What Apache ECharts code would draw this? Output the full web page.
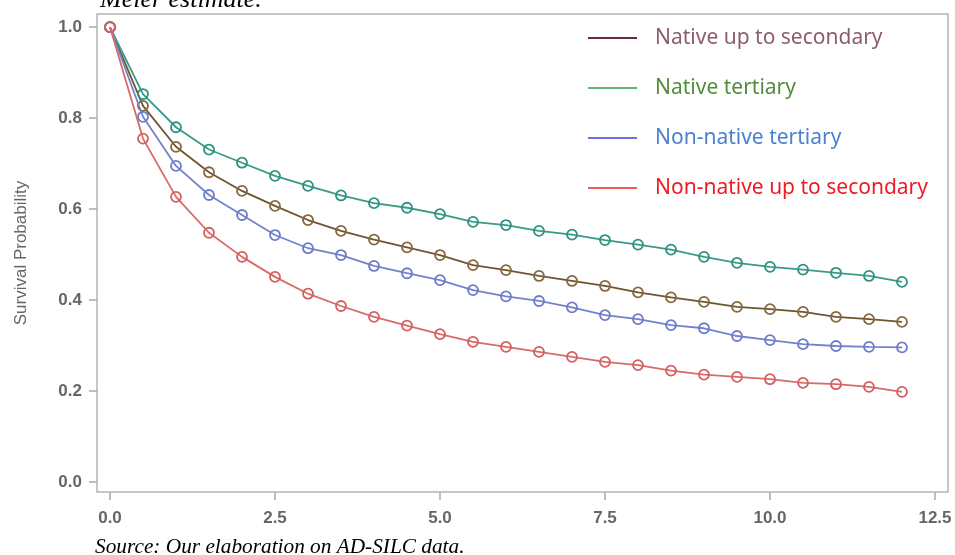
<!DOCTYPE html>
<html>
<head>
<meta charset="utf-8">
<script src="https://cdn.jsdelivr.net/npm/echarts@6/dist/echarts.min.js"></script>
<style>
html,body{margin:0;padding:0;background:#fff;}
#chart{width:955px;height:555px;}
</style>
</head>
<body>
<div id="chart"></div>
<script>
var times = [0,0.5,1,1.5,2,2.5,3,3.5,4,4.5,5,5.5,6,6.5,7,7.5,8,8.5,9,9.5,10,10.5,11,11.5,12];
var seriesNames = ['Native up to secondary','Native tertiary','Non-native tertiary','Non-native up to secondary'];
var nativeUpToSecondary = [1.0,0.827,0.737,0.681,0.640,0.607,0.576,0.552,0.533,0.516,0.499,0.477,0.466,0.453,0.442,0.431,0.417,0.406,0.396,0.385,0.380,0.374,0.363,0.358,0.352];
var nativeTertiary = [1.0,0.853,0.780,0.731,0.702,0.673,0.651,0.630,0.613,0.603,0.589,0.572,0.565,0.552,0.544,0.532,0.522,0.511,0.495,0.482,0.473,0.467,0.460,0.453,0.440];
var nonNativeTertiary = [1.0,0.803,0.695,0.631,0.587,0.543,0.514,0.499,0.475,0.459,0.444,0.422,0.408,0.398,0.384,0.367,0.358,0.345,0.338,0.321,0.312,0.303,0.299,0.297,0.296];
var nonNativeUpToSecondary = [1.0,0.755,0.627,0.548,0.495,0.451,0.414,0.387,0.363,0.344,0.325,0.308,0.297,0.286,0.275,0.264,0.257,0.245,0.236,0.231,0.226,0.218,0.215,0.209,0.198];
var xTicks = [0,2.5,5,7.5,10,12.5];
var yTicks = [0,0.2,0.4,0.6,0.8,1.0];

var lineColors = ['#6e5532','#3a9a86','#7482cc','#d96a6a'];
var markerColors = ['#87683a','#2e9282','#6c7ccc','#d46060'];
var legendLineColors = ['#6a2c3c','#62b07e','#6f70e6','#f25a5a'];
var legendTextColors = ['#8c5d6c','#538c3d','#4d80cf','#ec1c24'];

function pairs(arr){ return times.map(function(t,i){ return [t, arr[i]]; }); }
var allData = [nativeUpToSecondary, nativeTertiary, nonNativeTertiary, nonNativeUpToSecondary];

var series = seriesNames.map(function(name, k){
  return {
    name: name,
    type: 'line',
    data: pairs(allData[k]),
    symbol: 'circle',
    symbolSize: 10,
    lineStyle: {color: lineColors[k], width: 1.8},
    itemStyle: {color: 'rgba(255,255,255,0)', borderColor: markerColors[k], borderWidth: 1.8},
    z: 2 + k,
    animation: false
  };
});
var chart = echarts.init(document.getElementById('chart'), null, {renderer: 'canvas'});
chart.setOption({
  backgroundColor: '#fff',
  animation: false,
  title: [
    {text: 'Meier estimate.', left: 100, top: -13, padding: 0,
     textStyle: {fontFamily: 'Liberation Serif', fontStyle: 'italic', fontWeight: 'normal', fontSize: 26, color: '#000'}},
    {text: 'Source: Our elaboration on AD-SILC data.', left: 95, top: 537, padding: 0,
     textStyle: {fontFamily: 'Liberation Serif', fontStyle: 'italic', fontWeight: 'normal', fontSize: 21.3, color: '#000'}}
  ],
  legend: {
    orient: 'vertical',
    left: 588,
    top: 26,
    padding: 0,
    itemWidth: 49,
    itemHeight: 2,
    itemGap: 26,
    icon: 'rect',
    textStyle: {fontFamily: 'Noto Sans', fontSize: 21, lineHeight: 24, padding: [0,0,0,13]},
    data: seriesNames.map(function(n, k){
      return {name: n, itemStyle: {color: legendLineColors[k], borderWidth: 0}, textStyle: {color: legendTextColors[k]}};
    })
  },
  grid: {left: 97, right: 7, top: 14, bottom: 63, show: true, borderColor: '#b4b4b4', borderWidth: 1.5, backgroundColor: '#fff'},
  xAxis: {
    type: 'value', min: -0.197, max: 12.697,
    splitLine: {show: false},
    axisLine: {show: false, onZero: false},
    axisTick: {show: true, customValues: xTicks, length: 8, lineStyle: {color: '#aaa', width: 1.5}},
    axisLabel: {customValues: xTicks, margin: 18, color: '#666', fontFamily: 'Liberation Sans', fontSize: 17, fontWeight: 'bold',
      formatter: function(v){ return v.toFixed(1); }}
  },
  yAxis: {
    type: 'value', min: -0.022, max: 1.029,
    name: 'Survival Probability', nameLocation: 'middle', nameGap: 67,
    nameTextStyle: {color: '#666', fontFamily: 'Liberation Sans', fontSize: 17},
    splitLine: {show: false},
    axisLine: {show: false, onZero: false},
    axisTick: {show: true, customValues: yTicks, length: 8, lineStyle: {color: '#aaa', width: 1.5}},
    axisLabel: {customValues: yTicks, margin: 15, color: '#666', fontFamily: 'Liberation Sans', fontSize: 17, fontWeight: 'bold',
      formatter: function(v){ return v.toFixed(1); }}
  },
  series: series
});
</script>
</body>
</html>
